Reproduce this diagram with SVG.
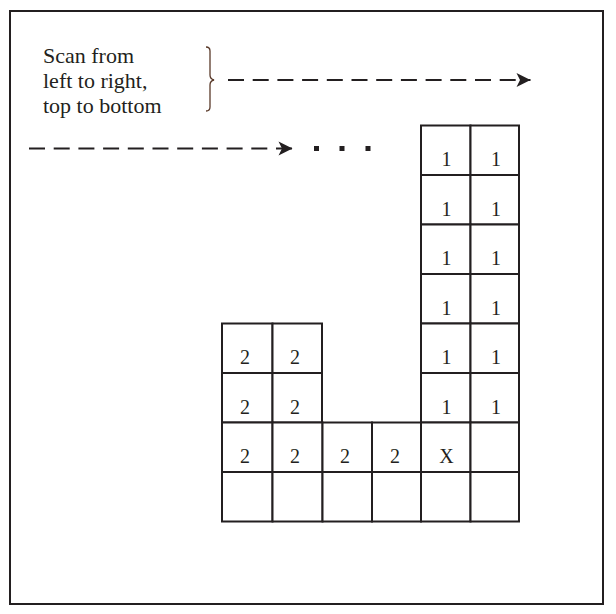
<svg xmlns="http://www.w3.org/2000/svg" width="616" height="614" viewBox="0 0 616 614">
<style>
.cell{fill:#fff;stroke:#231f20;stroke-width:2}
.num{font-family:"Liberation Serif",serif;font-size:20px;fill:#231f20;text-anchor:middle}
.lbl{font-family:"Liberation Serif",serif;font-size:22px;fill:#231f20}
.dash{stroke:#231f20;stroke-width:2;stroke-dasharray:16 8.7;fill:none}
</style>
<defs>
<marker id="ah" markerWidth="16" markerHeight="16" viewBox="0 0 16 16" refX="15" refY="8" orient="auto" markerUnits="userSpaceOnUse">
<path d="M15,8 L1,1 L4.5,8 L1,15 Z" fill="#231f20"/>
</marker>
</defs>
<rect x="10" y="11" width="593" height="593" fill="#fff" stroke="#231f20" stroke-width="2"/>
<g id="label">
<text class="lbl" x="43" y="63">Scan from</text>
<text class="lbl" x="43" y="88">left to right,</text>
<text class="lbl" x="43" y="113">top to bottom</text>
<path d="M206,47 Q210,47 210,51 L210,75 Q210,79 214,80 Q210,81 210,85 L210,107 Q210,111 206,111" fill="none" stroke="#5a3a2a" stroke-width="1.3"/>
</g>
<g id="connectors">
<line class="dash" x1="228" y1="80" x2="530.5" y2="80" marker-end="url(#ah)"/>
<line class="dash" x1="29" y1="148.5" x2="292.5" y2="148.5" marker-end="url(#ah)"/>
<rect x="314" y="146" width="5" height="5" fill="#231f20"/>
<rect x="339.5" y="146" width="5" height="5" fill="#231f20"/>
<rect x="365.5" y="146" width="5" height="5" fill="#231f20"/>
</g>
<g id="col5-6">
<g id="c0-5"><rect class="cell" x="421" y="125.5" width="49.5" height="49.5"/><text class="num" x="446.5" y="166">1</text></g>
<g id="c0-6"><rect class="cell" x="470.5" y="125.5" width="48.5" height="49.5"/><text class="num" x="496" y="166">1</text></g>
<g id="c1-5"><rect class="cell" x="421" y="175" width="49.5" height="49.5"/><text class="num" x="446.5" y="215.5">1</text></g>
<g id="c1-6"><rect class="cell" x="470.5" y="175" width="48.5" height="49.5"/><text class="num" x="496" y="215.5">1</text></g>
<g id="c2-5"><rect class="cell" x="421" y="224.5" width="49.5" height="49.5"/><text class="num" x="446.5" y="265">1</text></g>
<g id="c2-6"><rect class="cell" x="470.5" y="224.5" width="48.5" height="49.5"/><text class="num" x="496" y="265">1</text></g>
<g id="c3-5"><rect class="cell" x="421" y="274" width="49.5" height="49.5"/><text class="num" x="446.5" y="314.5">1</text></g>
<g id="c3-6"><rect class="cell" x="470.5" y="274" width="48.5" height="49.5"/><text class="num" x="496" y="314.5">1</text></g>
<g id="c4-5"><rect class="cell" x="421" y="323.5" width="49.5" height="49.5"/><text class="num" x="446.5" y="364">1</text></g>
<g id="c4-6"><rect class="cell" x="470.5" y="323.5" width="48.5" height="49.5"/><text class="num" x="496" y="364">1</text></g>
<g id="c5-5"><rect class="cell" x="421" y="373" width="49.5" height="49.5"/><text class="num" x="446.5" y="413.5">1</text></g>
<g id="c5-6"><rect class="cell" x="470.5" y="373" width="48.5" height="49.5"/><text class="num" x="496" y="413.5">1</text></g>
<g id="c6-5"><rect class="cell" x="421" y="422.5" width="49.5" height="49.5"/><text class="num" x="446.5" y="463">X</text></g>
<g id="c6-6"><rect class="cell" x="470.5" y="422.5" width="48.5" height="49.5"/></g>
<g id="c7-5"><rect class="cell" x="421" y="472" width="49.5" height="49.5"/></g>
<g id="c7-6"><rect class="cell" x="470.5" y="472" width="48.5" height="49.5"/></g>
</g>
<g id="col1-4">
<g id="c4-1"><rect class="cell" x="222" y="323.5" width="50.5" height="49.5"/><text class="num" x="245" y="364">2</text></g>
<g id="c4-2"><rect class="cell" x="272.5" y="323.5" width="49.5" height="49.5"/><text class="num" x="295" y="364">2</text></g>
<g id="c5-1"><rect class="cell" x="222" y="373" width="50.5" height="49.5"/><text class="num" x="245" y="413.5">2</text></g>
<g id="c5-2"><rect class="cell" x="272.5" y="373" width="49.5" height="49.5"/><text class="num" x="295" y="413.5">2</text></g>
<g id="c6-1"><rect class="cell" x="222" y="422.5" width="50.5" height="49.5"/><text class="num" x="245" y="463">2</text></g>
<g id="c6-2"><rect class="cell" x="272.5" y="422.5" width="50" height="49.5"/><text class="num" x="295" y="463">2</text></g>
<g id="c6-3"><rect class="cell" x="322.5" y="422.5" width="49.5" height="49.5"/><text class="num" x="345" y="463">2</text></g>
<g id="c6-4"><rect class="cell" x="372" y="422.5" width="49" height="49.5"/><text class="num" x="395" y="463">2</text></g>
<g id="c7-1"><rect class="cell" x="222" y="472" width="50.5" height="49.5"/></g>
<g id="c7-2"><rect class="cell" x="272.5" y="472" width="50" height="49.5"/></g>
<g id="c7-3"><rect class="cell" x="322.5" y="472" width="49.5" height="49.5"/></g>
<g id="c7-4"><rect class="cell" x="372" y="472" width="49" height="49.5"/></g>
</g>
</svg>
